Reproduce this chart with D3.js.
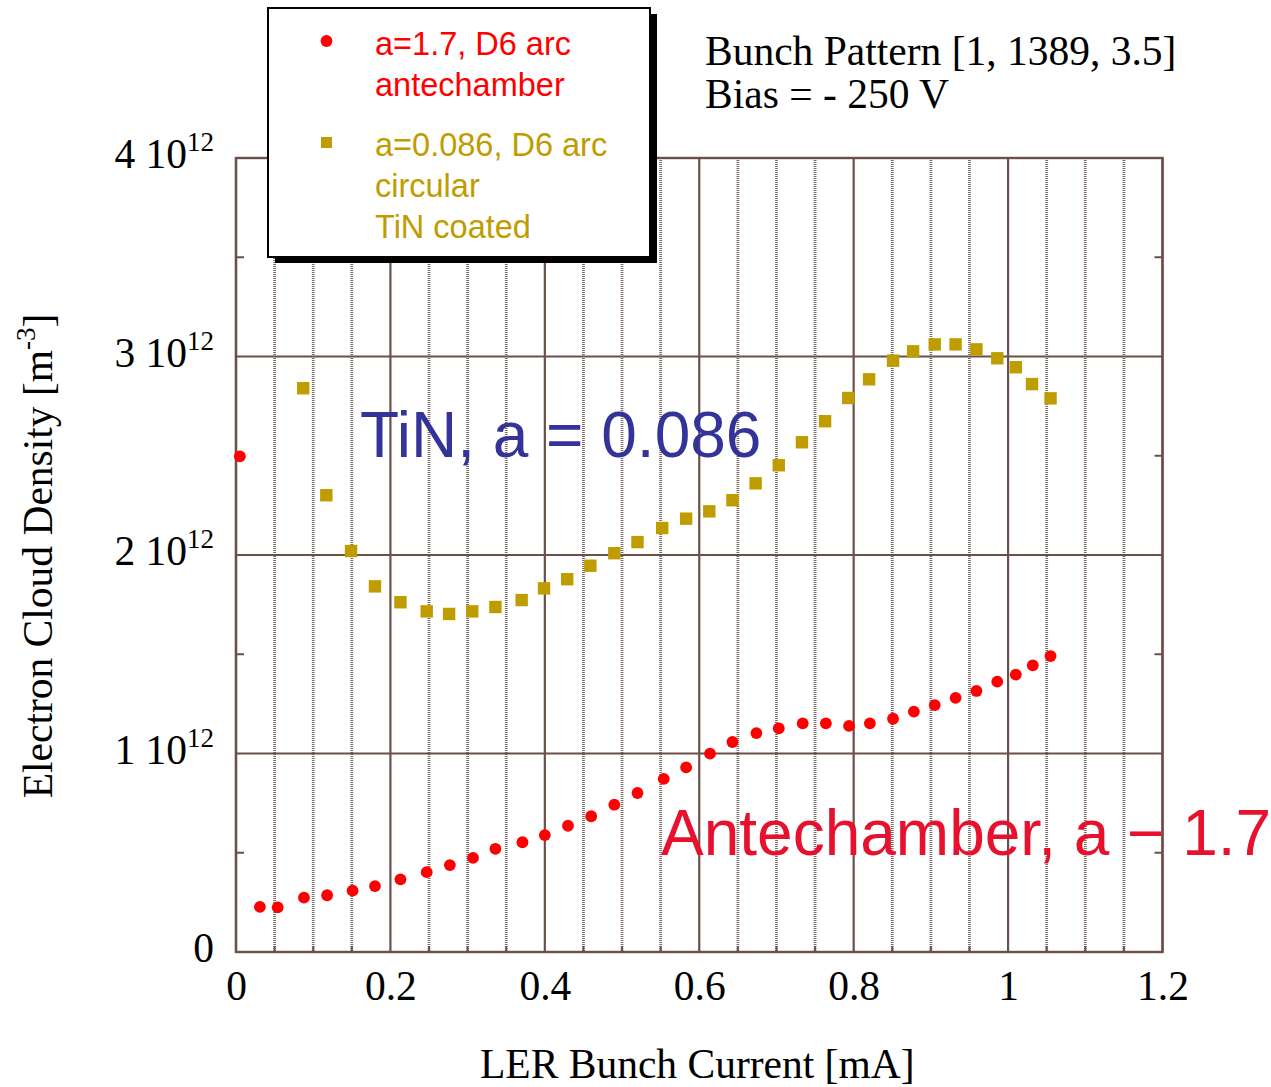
<!DOCTYPE html>
<html>
<head>
<meta charset="utf-8">
<script src="https://cdn.jsdelivr.net/npm/d3@7"></script>
<style>
  body { margin: 0; background: #fff; }
  svg { display: block; }
</style>
</head>
<body>
<svg id="chart" width="1271" height="1087"></svg>
<script>
// LER bunch current [mA] and electron cloud density [10^12 m^-3]
const antechamberX = [0.005, 0.031, 0.054, 0.088, 0.118, 0.151, 0.180, 0.213, 0.247, 0.277,
  0.307, 0.336, 0.371, 0.400, 0.430, 0.460, 0.490, 0.520, 0.554, 0.583,
  0.614, 0.643, 0.674, 0.703, 0.734, 0.764, 0.794, 0.821, 0.851, 0.878,
  0.905, 0.932, 0.959, 0.986, 1.010, 1.032, 1.055];
const antechamberY = [2.497, 0.227, 0.225, 0.274, 0.286, 0.309, 0.332, 0.366, 0.402, 0.438,
  0.474, 0.520, 0.553, 0.589, 0.636, 0.684, 0.742, 0.801, 0.872, 0.930,
  0.999, 1.058, 1.103, 1.127, 1.152, 1.152, 1.139, 1.152, 1.175, 1.211,
  1.244, 1.280, 1.315, 1.362, 1.397, 1.444, 1.491];

const tinX = [0.087, 0.117, 0.149, 0.180, 0.213, 0.247, 0.276, 0.306, 0.336, 0.370,
  0.399, 0.429, 0.459, 0.490, 0.520, 0.552, 0.583, 0.613, 0.643, 0.673,
  0.703, 0.733, 0.763, 0.793, 0.820, 0.851, 0.877, 0.905, 0.932, 0.959,
  0.986, 1.010, 1.031, 1.055];
const tinY = [2.840, 2.301, 2.020, 1.842, 1.762, 1.716, 1.703, 1.716, 1.738, 1.773,
  1.832, 1.878, 1.946, 2.009, 2.065, 2.136, 2.183, 2.220, 2.276, 2.361,
  2.452, 2.568, 2.674, 2.791, 2.885, 2.979, 3.026, 3.061, 3.061, 3.036,
  2.991, 2.946, 2.861, 2.789];

const xMajorTicks = [0, 0.2, 0.4, 0.6, 0.8, 1.0, 1.2];
const xTickLabels = ["0", "0.2", "0.4", "0.6", "0.8", "1", "1.2"];
const xMinorTicks = [0.05, 0.1, 0.15, 0.25, 0.3, 0.35, 0.45, 0.5, 0.55, 0.65, 0.7, 0.75,
  0.85, 0.9, 0.95, 1.05, 1.1, 1.15];
const yMajorTicks = [0, 1, 2, 3, 4];
const yTickMantissa = ["0", "1 10", "2 10", "3 10", "4 10"];
const yTickExponent = ["", "12", "12", "12", "12"];
const yMinorTicks = [0.5, 1.5, 2.5, 3.5];

const legendLines = [
  ["a=1.7, D6 arc", "antechamber"],
  ["a=0.086, D6 arc", "circular", "TiN coated"]
];
const infoLines = ["Bunch Pattern [1, 1389, 3.5]", "Bias = - 250 V"];

const AXIS = "#6b5049";
const RED = "#ff0000";
const GOLD = "#bf9c00";
const SERIF = "'Liberation Serif', 'Times New Roman', serif";
const SANS = "'Liberation Sans', Arial, sans-serif";
const SERIF_SIZE = 41.5;

const svg = d3.select("#chart");
const plotLeft = 236, plotRight = 1162.5, plotTop = 158, plotBottom = 952;

const x = d3.scaleLinear().domain([0, 1.2]).range([plotLeft, plotRight]);
const y = d3.scaleLinear().domain([0, 4]).range([plotBottom, plotTop]);

// minor vertical grid (fine striped lines)
svg.append("g").selectAll("line").data(xMinorTicks).join("line")
  .attr("x1", d => x(d)).attr("x2", d => x(d))
  .attr("y1", plotTop).attr("y2", plotBottom)
  .attr("stroke", "#7a6a65").attr("stroke-width", 2.8)
  .attr("stroke-dasharray", "1 1");

// short dark ticks at the foot of the minor lines
svg.append("g").selectAll("line").data(xMinorTicks).join("line")
  .attr("x1", d => x(d)).attr("x2", d => x(d))
  .attr("y1", plotBottom - 6).attr("y2", plotBottom)
  .attr("stroke", AXIS).attr("stroke-width", 2);

// major vertical grid
svg.append("g").selectAll("line").data(xMajorTicks).join("line")
  .attr("x1", d => x(d)).attr("x2", d => x(d))
  .attr("y1", plotTop).attr("y2", plotBottom)
  .attr("stroke", AXIS).attr("stroke-width", 2.2);

// major horizontal grid
svg.append("g").selectAll("line").data(yMajorTicks).join("line")
  .attr("x1", plotLeft).attr("x2", plotRight)
  .attr("y1", d => y(d)).attr("y2", d => y(d))
  .attr("stroke", AXIS).attr("stroke-width", 2.2);

// minor y ticks, inward on both sides
const yMinorG = svg.append("g");
yMinorG.selectAll("line.l").data(yMinorTicks).join("line").attr("class", "l")
  .attr("x1", plotLeft).attr("x2", plotLeft + 8)
  .attr("y1", d => y(d)).attr("y2", d => y(d))
  .attr("stroke", AXIS).attr("stroke-width", 2);
yMinorG.selectAll("line.r").data(yMinorTicks).join("line").attr("class", "r")
  .attr("x1", plotRight - 8).attr("x2", plotRight)
  .attr("y1", d => y(d)).attr("y2", d => y(d))
  .attr("stroke", AXIS).attr("stroke-width", 2);

// frame
svg.append("rect")
  .attr("x", plotLeft).attr("y", plotTop)
  .attr("width", plotRight - plotLeft).attr("height", plotBottom - plotTop)
  .attr("fill", "none").attr("stroke", AXIS).attr("stroke-width", 2.4);

// x axis labels
const xAxis = d3.axisBottom(x).tickValues(xMajorTicks).tickSize(0).tickPadding(19)
  .tickFormat((d, i) => xTickLabels[i]);
const gx = svg.append("g").attr("transform", `translate(0,${plotBottom})`).call(xAxis);
gx.select(".domain").remove();
gx.selectAll("text").attr("font-family", SERIF).attr("font-size", SERIF_SIZE).attr("fill", "#000");

// y axis labels with exponent
const yAxis = d3.axisLeft(y).tickValues(yMajorTicks).tickSize(0).tickPadding(22)
  .tickFormat(() => "");
const gy = svg.append("g").attr("transform", `translate(${plotLeft},0)`).call(yAxis);
gy.select(".domain").remove();
gy.selectAll("text").each(function (d, i) {
  const t = d3.select(this)
    .attr("font-family", SERIF).attr("font-size", SERIF_SIZE).attr("fill", "#000")
    .attr("dy", "0.24em");
  t.append("tspan").text(yTickMantissa[i]);
  if (yTickExponent[i]) {
    t.append("tspan").attr("font-size", 27).attr("dy", -17).text(yTickExponent[i]);
  }
});

// axis titles
svg.append("text")
  .attr("x", (plotLeft + plotRight) / 2 - 2).attr("y", 1078)
  .attr("text-anchor", "middle")
  .attr("font-family", SERIF).attr("font-size", SERIF_SIZE)
  .text("LER Bunch Current [mA]");

const yTitle = svg.append("text")
  .attr("transform", "translate(52,556) rotate(-90)")
  .attr("text-anchor", "middle")
  .attr("font-family", SERIF).attr("font-size", SERIF_SIZE);
yTitle.append("tspan").text("Electron Cloud Density [m");
yTitle.append("tspan").attr("font-size", 27).attr("dy", -17).text("-3");
yTitle.append("tspan").attr("dy", 17).text("]");

// data markers
svg.append("g").selectAll("rect").data(tinX).join("rect")
  .attr("x", d => x(d) - 6.2).attr("y", (d, i) => y(tinY[i]) - 6.2)
  .attr("width", 12.4).attr("height", 12.4)
  .attr("fill", GOLD);

svg.append("g").selectAll("circle").data(antechamberX).join("circle")
  .attr("cx", d => x(d)).attr("cy", (d, i) => y(antechamberY[i]))
  .attr("r", 5.9)
  .attr("fill", RED);

// in-plot annotations
svg.append("text")
  .attr("x", 360).attr("y", 457)
  .attr("font-family", SANS).attr("font-size", 64).attr("fill", "#333399")
  .text("TiN, a = 0.086");

svg.append("text")
  .attr("x", 661).attr("y", 855)
  .attr("font-family", SANS).attr("font-size", 64).attr("fill", "#e8112d")
  .text("Antechamber, a \u2212 1.7");

// run conditions, top right
svg.append("g").selectAll("text").data(infoLines).join("text")
  .attr("x", 705).attr("y", (d, i) => 65 + i * 43)
  .attr("font-family", SERIF).attr("font-size", SERIF_SIZE).attr("fill", "#000")
  .text(d => d);

// legend
const lg = svg.append("g");
lg.append("rect").attr("x", 275).attr("y", 14).attr("width", 382).attr("height", 249)
  .attr("fill", "#000");
lg.append("rect").attr("x", 268).attr("y", 8).attr("width", 382).attr("height", 249)
  .attr("fill", "#fff").attr("stroke", "#000").attr("stroke-width", 2);

lg.append("circle").attr("cx", 326.5).attr("cy", 41).attr("r", 5.9).attr("fill", RED);
lg.append("rect").attr("x", 321).attr("y", 137).attr("width", 11).attr("height", 11).attr("fill", GOLD);

const lgText1 = lg.append("text").attr("font-family", SANS).attr("font-size", 32.5).attr("fill", RED);
legendLines[0].forEach((s, i) => {
  lgText1.append("tspan").attr("x", 375).attr("y", 55 + i * 41).text(s);
});
const lgText2 = lg.append("text").attr("font-family", SANS).attr("font-size", 32.5).attr("fill", GOLD);
legendLines[1].forEach((s, i) => {
  lgText2.append("tspan").attr("x", 375).attr("y", 156 + i * 41).text(s);
});
</script>
</body>
</html>
